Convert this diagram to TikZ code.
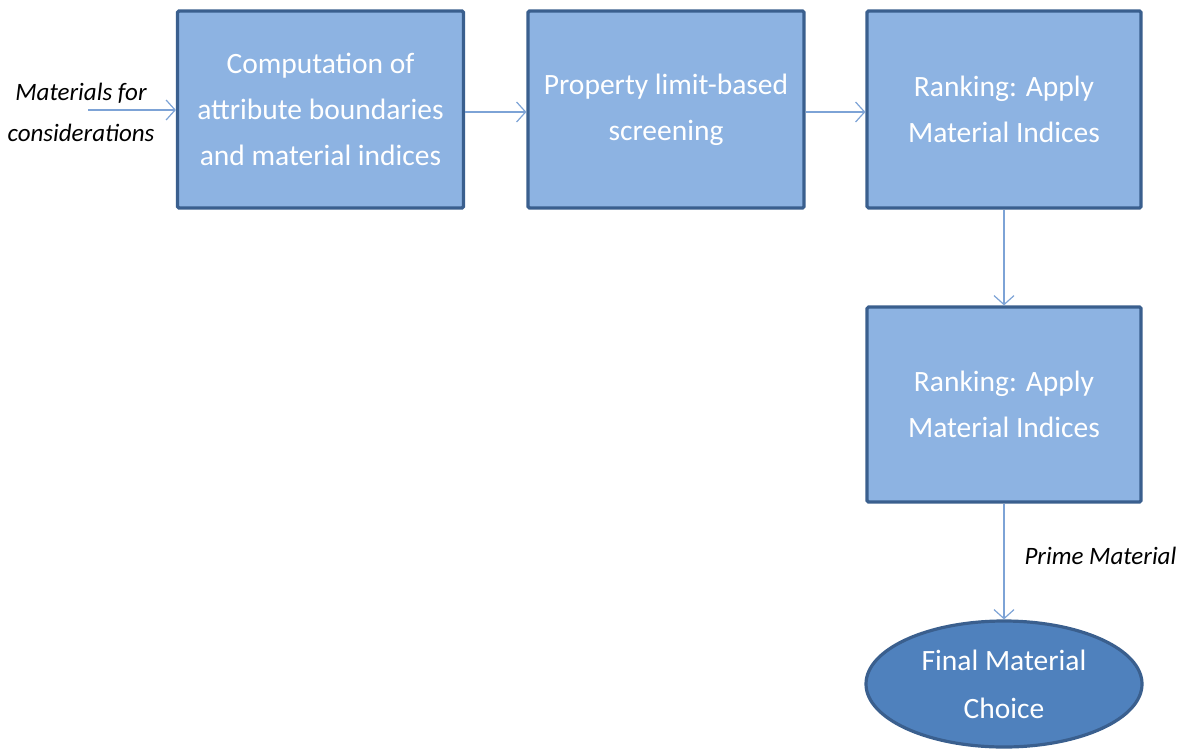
\documentclass[tikz,border=0pt]{standalone}
\usepackage{fontspec}
\setmainfont{Carlito}
\usetikzlibrary{shapes.geometric}
\usetikzlibrary{arrows.meta}

\definecolor{boxfill}{HTML}{8DB3E2}
\definecolor{boxedge}{HTML}{3A5F8E}
\definecolor{ovalfill}{HTML}{4F81BD}
\definecolor{flow}{HTML}{7DA3D6}

\tikzset{
  stagebox/.style={draw=boxedge, fill=boxfill, line width=3.2pt, rounded corners=1.5pt,
    minimum width=286pt, minimum height=197pt, text=white, align=center,
    font=\fontsize{29.5}{46}\selectfont},
  flowline/.style={draw=flow, line width=1.4pt, -{Straight Barb[length=9pt,width=20pt,line width=1.2pt]}},
  note/.style={align=center, font=\itshape\fontsize{25}{41}\selectfont}
}

\begin{document}
\begin{tikzpicture}[x=1pt,y=-1pt]
    \useasboundingbox (0,0) rectangle (1182,749);
    \node[stagebox] (compute) at (320.5,109.5) {Computation of\\attribute boundaries\\and material indices};
    \node[stagebox, minimum width=276pt] (screen) at (666,109.5) {Property limit-based\\screening};
    \node[stagebox, minimum width=274pt] (rankA) at (1004,109.5) {Ranking: Apply\\Material Indices};
    \node[stagebox, minimum width=274pt, minimum height=195pt] (rankB) at (1004,404.5) {Ranking: Apply\\Material Indices};
    \node[ellipse, draw=boxedge, fill=ovalfill, line width=3.2pt, minimum width=276pt, minimum height=126pt,
      inner sep=0pt, text=white, align=center, font=\fontsize{29.5}{48}\selectfont] (choice) at (1004,684) {Final Material\\Choice};

    \node[note] (input) at (81,112) {Materials for\\considerations};
    \coordinate (start) at (88,110);
    \node[note, anchor=west] (prime) at (1021,556) {Prime Material};

    \draw[flowline] (start) -- (compute.west |- start);
    \draw[flowline] (compute.east |- 0,112) -- (screen.west |- 0,112);
    \draw[flowline] (screen.east |- 0,112) -- (rankA.west |- 0,112);
    \draw[flowline] (rankA.south) -- (rankB.north);
    \draw[flowline] (rankB.south) -- (choice.north);
\end{tikzpicture}
\end{document}
